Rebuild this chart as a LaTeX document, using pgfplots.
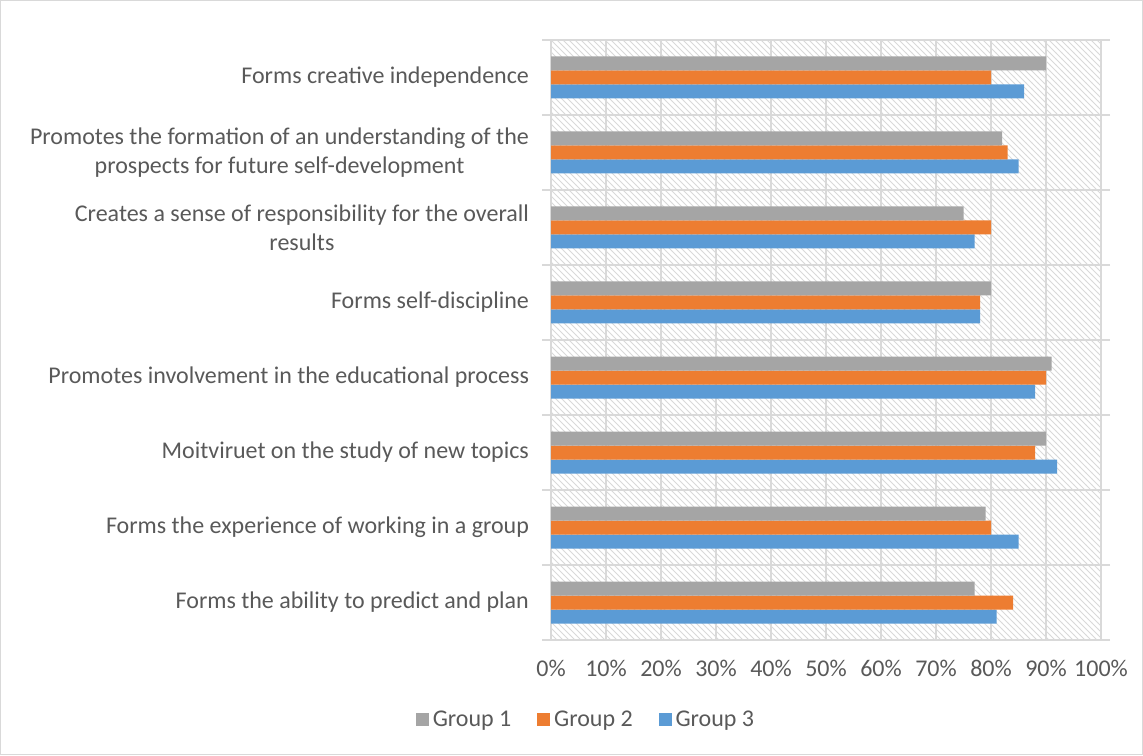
\documentclass[border=0pt]{standalone}
\usepackage{pgfplots}
\pgfplotsset{compat=1.18}
\usepackage{fontspec}
\setmainfont{Carlito}
\usetikzlibrary{patterns}
\definecolor{gone}{HTML}{A5A5A5}
\definecolor{gtwo}{HTML}{ED7D31}
\definecolor{gthree}{HTML}{5B9BD5}
\definecolor{txt}{HTML}{595959}
\definecolor{gridc}{HTML}{D9D9D9}
\begin{document}
\begin{tikzpicture}[x=1pt,y=1pt]
\path[use as bounding box] (0,0) rectangle (571.5,377.5);
\draw[color=gridc, line width=0.6pt] (0.3,0.3) rectangle (571.2,377.2);
\begin{axis}[
  at={(275.5pt,57.5pt)}, anchor=south west,
  scale only axis, width=275pt, height=300pt,
  xbar, bar width=7pt,
  xmin=0, xmax=100, ymin=-0.5, ymax=7.5,
  xtick={0,10,...,100},
  /pgf/number format/assume math mode=true,
  xticklabel={\pgfmathprintnumber{\tick}\%},
  ytick={0,...,7},
  minor ytick={-0.5,0.5,...,7.5},
  yticklabels={
    Forms the ability to predict and plan,
    Forms the experience of working in a group,
    Moitviruet on the study of new topics,
    Promotes involvement in the educational process,
    Forms self-discipline,
    {Creates a sense of responsibility for the overall\\results},
    {Promotes the formation of an understanding of the\\prospects for future self-development},
    Forms creative independence},
  yticklabel style={align=center, font=\fontsize{12}{14.5}\selectfont, text=txt, xshift=-7.5pt},
  xticklabel style={font=\fontsize{12}{14.5}\selectfont, text=txt, yshift=-6.5pt},
  xmajorgrids, yminorgrids,
  grid style={draw=gridc, line width=0.75pt},
  minor grid style={draw=gridc, line width=0.75pt},
  axis line style={draw=gridc, line width=0.75pt},
  major tick length=0pt,
  minor tick length=4.5pt,
  tick align=outside,
  minor tick style={draw=gridc, line width=0.75pt},
  axis background/.style={pattern=north west lines, pattern color=gridc},
  legend style={at={(0.0655,-0.133)}, anchor=center, draw=none, fill=none,
    legend columns=-1, font=\fontsize{12}{14.5}\selectfont, text=txt,
    /tikz/every even column/.append style={column sep=11pt}},
  legend image code/.code={\fill[#1] (0pt,-3.2pt) rectangle (6.4pt,3.2pt);},
  reverse legend,
]
\addplot[fill=gthree, draw=none, bar shift=-7pt] coordinates {
 (81,0) (85,1) (92,2) (88,3) (78,4) (77,5) (85,6) (86,7)};
\addlegendentry{Group 3}
\addplot[fill=gtwo, draw=none, bar shift=0pt] coordinates {
 (84,0) (80,1) (88,2) (90,3) (78,4) (80,5) (83,6) (80,7)};
\addlegendentry{Group 2}
\addplot[fill=gone, draw=none, bar shift=7pt] coordinates {
 (77,0) (79,1) (90,2) (91,3) (80,4) (75,5) (82,6) (90,7)};
\addlegendentry{Group 1}
\end{axis}
\end{tikzpicture}
\end{document}
